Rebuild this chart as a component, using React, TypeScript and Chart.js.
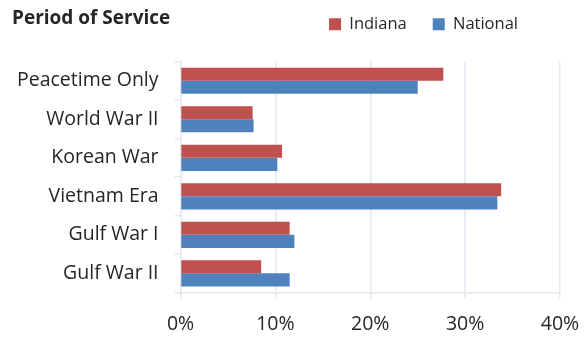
import React, { useEffect, useRef } from "react";
import { Chart, registerables } from "chart.js";

Chart.register(...registerables);

const categories = ["Peacetime Only", "World War II", "Korean War", "Vietnam Era", "Gulf War I", "Gulf War II"];
const indiana = [27.7, 7.6, 10.7, 33.8, 11.5, 8.5];
const national = [25.0, 7.7, 10.2, 33.4, 12.0, 11.5];
const xTicks = [0, 10, 20, 30, 40];
const titleText = "Period of Service";

const FONT = "'Open Sans', sans-serif";
const LEGEND_DX = 38;
const LEGEND_DY = -19;

const titlePlugin = {
  id: "leftTitle",
  afterDraw(chart: any) {
    const ctx = chart.ctx;
    ctx.save();
    ctx.font = `bold 19px ${FONT}`;
    ctx.fillStyle = "#262626";
    ctx.textAlign = "left";
    ctx.textBaseline = "middle";
    ctx.fillText(titleText, 12, 19);
    ctx.restore();
  },
};

const legendShift = {
  id: "legendShift",
  afterLayout(chart: any) {
    const lg = chart.legend;
    if (!lg) return;
    lg.left -= LEGEND_DX;
    lg.right -= LEGEND_DX;
    lg.top += LEGEND_DY;
    lg.bottom += LEGEND_DY;
  },
};

export default function App() {
  const ref = useRef<HTMLCanvasElement | null>(null);
  useEffect(() => {
    document.body.style.margin = "0";
    const chart = new Chart(ref.current as HTMLCanvasElement, {
      type: "bar",
      data: {
        labels: categories,
        datasets: [
          { label: "Indiana", data: indiana, backgroundColor: "#C0504D" },
          { label: "National", data: national, backgroundColor: "#4F81BD" },
        ],
      },
      plugins: [titlePlugin, legendShift],
      options: {
        indexAxis: "y",
        responsive: false,
        animation: false,
        datasets: { bar: { categoryPercentage: 0.68, barPercentage: 1.0 } },
        layout: { padding: { top: 9, right: 2, left: 1, bottom: -13 } },
        plugins: {
          title: { display: false },
          tooltip: { enabled: false },
          legend: {
            position: "top",
            align: "end",
            labels: {
              boxWidth: 12,
              boxHeight: 12,
              padding: 26,
              color: "#262626",
              font: { family: FONT, size: 16.5 },
            },
          },
        },
        scales: {
          x: {
            min: 0,
            max: 40,
            afterBuildTicks: (axis: any) => {
              axis.ticks = xTicks.map((v) => ({ value: v }));
            },
            afterFit: (axis: any) => {
              axis.paddingRight = 24;
            },
            ticks: {
              callback: (v: any) => `${v}%`,
              color: "#262626",
              font: { family: FONT, size: 19.5 },
              padding: 14,
              maxRotation: 0,
            },
            grid: { color: "#E3E8F1", lineWidth: 1.5, tickLength: 6 },
            border: { color: "#E3E8F1", width: 1.5 },
          },
          y: {
            ticks: {
              color: "#262626",
              font: { family: FONT, size: 19.5 },
              padding: 16,
            },
            grid: { offset: true, drawOnChartArea: false, color: "#E3E8F1", lineWidth: 1.5, tickLength: 6 },
            border: { color: "#E3E8F1", width: 1.5 },
          },
        },
      },
    } as any);
    return () => chart.destroy();
  }, []);
  return <canvas ref={ref} width={584} height={337} style={{ display: "block" }} />;
}
